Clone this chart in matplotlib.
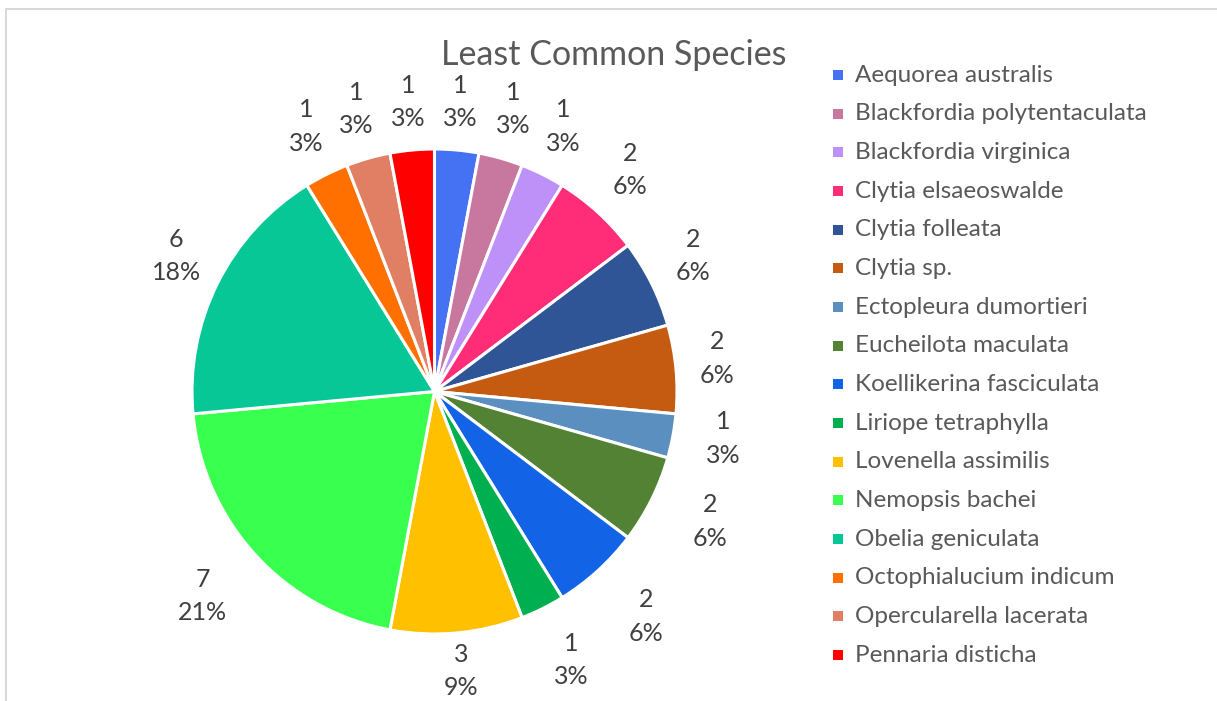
import numpy as np
import matplotlib
matplotlib.use('Agg')
import matplotlib.pyplot as plt
from matplotlib.patches import Rectangle
from matplotlib.lines import Line2D

plt.rcParams['font.family'] = ['Lato', 'DejaVu Sans']

# specie e conteggi
species = ['Aequorea australis', 'Blackfordia polytentaculata', 'Blackfordia virginica',
           'Clytia elsaeoswalde', 'Clytia folleata', 'Clytia sp.', 'Ectopleura dumortieri',
           'Eucheilota maculata', 'Koellikerina fasciculata', 'Liriope tetraphylla',
           'Lovenella assimilis', 'Nemopsis bachei', 'Obelia geniculata',
           'Octophialucium indicum', 'Opercularella lacerata', 'Pennaria disticha']
counts = [1, 1, 1, 2, 2, 2, 1, 2, 2, 1, 3, 7, 6, 1, 1, 1]
colors = ['#4472F2', '#C8789F', '#BE91F8', '#FF2D78', '#2F5597', '#C55A11', '#5B8FBF',
          '#548235', '#1263E6', '#00B050', '#FFC000', '#39FF4F', '#06C795',
          '#FF7000', '#E07F64', '#FF0000']

W, H = 1217, 701
fig = plt.figure(figsize=(W/100, H/100), dpi=100)

# bordo grigio dell'area grafico
fig.add_artist(Line2D([6/W, 6/W, 1.0], [0.0, 1-9/H, 1-9/H], color='#D9D9D9', lw=1.5))

# torta: centro (434.5, 391.5) px, raggio 242.5 px
cx, cy, R = 434.5, 391.5, 242.5
half = 300
ax = fig.add_axes(((cx-half)/W, (H-cy-half)/H, 2*half/W, 2*half/H))
wedges, _ = ax.pie(counts, colors=colors, startangle=90, counterclock=False, radius=1,
                   wedgeprops=dict(edgecolor='white', linewidth=2.2))
ax.set_xlim(-half/R, half/R)
ax.set_ylim(-half/R, half/R)
ax.set_aspect('equal')
ax.axis('off')

# etichette: valore e percentuale fuori dalla fetta
tot = sum(counts)
cum = np.cumsum([0] + counts)
for i, c in enumerate(counts):
    th = 2*np.pi*(cum[i] + c/2)/tot  # angolo orario dall'alto
    dx, dy = np.sin(th), np.cos(th)
    if dy < 0:
        d = 282 + 32*abs(np.sin(2*th))
    else:
        d = 282 + 8*abs(np.sin(2*th))
    x = dx*d/R
    y = (dy*d + 7)/R
    ax.text(x, y, '%d\n%d%%' % (c, round(100*c/tot)), ha='center', va='center',
            fontsize=18, color='#404040', linespacing=1.55)

fig.text(614/W, 1-55/H, 'Least Common Species', ha='center', va='center',
         fontsize=24.5, color='#595959')

# legenda
for i, (s, col) in enumerate(zip(species, colors)):
    yy = 75 + i*38.67
    fig.add_artist(Rectangle((833/W, 1-(yy+5)/H), 10/W, 10/H, facecolor=col,
                             edgecolor='none', transform=fig.transFigure))
    fig.text(855/W, 1-yy/H, s, ha='left', va='center', fontsize=17.5, color='#595959')

fig.savefig('out.png', dpi=100)
